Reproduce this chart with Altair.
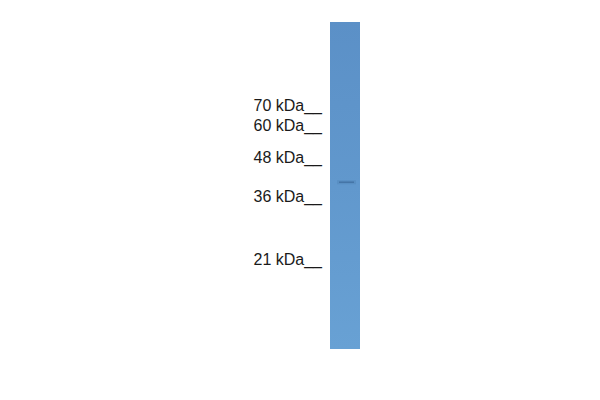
import altair as alt
import pandas as pd

# Marker ladder (kDa) and where each marker sits on the blot (page pixel row of its tick)
marker_kda = [70, 60, 48, 36, 21]
marker_labels = ["70 kDa__", "60 kDa__", "48 kDa__", "36 kDa__", "21 kDa__"]
marker_rows = [104.5, 124.5, 157, 196, 259]

# Detected band (kDa) and its relative intensity
band_kda = [42.7]
band_intensity = [0.55]

markers = pd.DataFrame({"kda": marker_kda, "label": marker_labels})
bands = pd.DataFrame({"kda": band_kda, "intensity": band_intensity})
lane = pd.DataFrame({"lane": ["sample"]})

yscale = alt.Scale(type="linear", domain=marker_kda, range=marker_rows, clamp=False)

lane_rect = alt.Chart(lane).mark_rect(
    color=alt.Gradient(
        gradient="linear",
        stops=[
            alt.GradientStop(color="#5b90c7", offset=0),
            alt.GradientStop(color="#6198cd", offset=0.5),
            alt.GradientStop(color="#68a1d4", offset=1),
        ],
        x1=0, x2=0, y1=0, y2=1,
    )
).encode(
    x=alt.value(322), x2=alt.value(352),
    y=alt.value(14), y2=alt.value(341),
)

band_glow = alt.Chart(bands).mark_rule(
    color="#4a7db3", strokeWidth=4, opacity=0.35
).encode(
    y=alt.Y("kda:Q", scale=yscale, axis=None),
    x=alt.value(329), x2=alt.value(348),
)

band_core = alt.Chart(bands).mark_rule(
    color="#35618f", strokeWidth=1.5
).encode(
    y=alt.Y("kda:Q", scale=yscale, axis=None),
    x=alt.value(331), x2=alt.value(346),
    opacity=alt.Opacity("intensity:Q", scale=None, legend=None),
)

labels = alt.Chart(markers).mark_text(
    align="right", baseline="alphabetic", dy=-2,
    font="Liberation Sans", fontSize=16, color="#1a1a1a",
).encode(
    y=alt.Y("kda:Q", scale=yscale, axis=None),
    x=alt.value(314),
    text="label:N",
)

chart = alt.layer(lane_rect, band_glow, band_core, labels).properties(
    width=584, height=384, padding=0, autosize="none", background="white"
).configure_view(stroke=None)

chart.save("out.html", embed_options={"renderer": "svg", "actions": False})
